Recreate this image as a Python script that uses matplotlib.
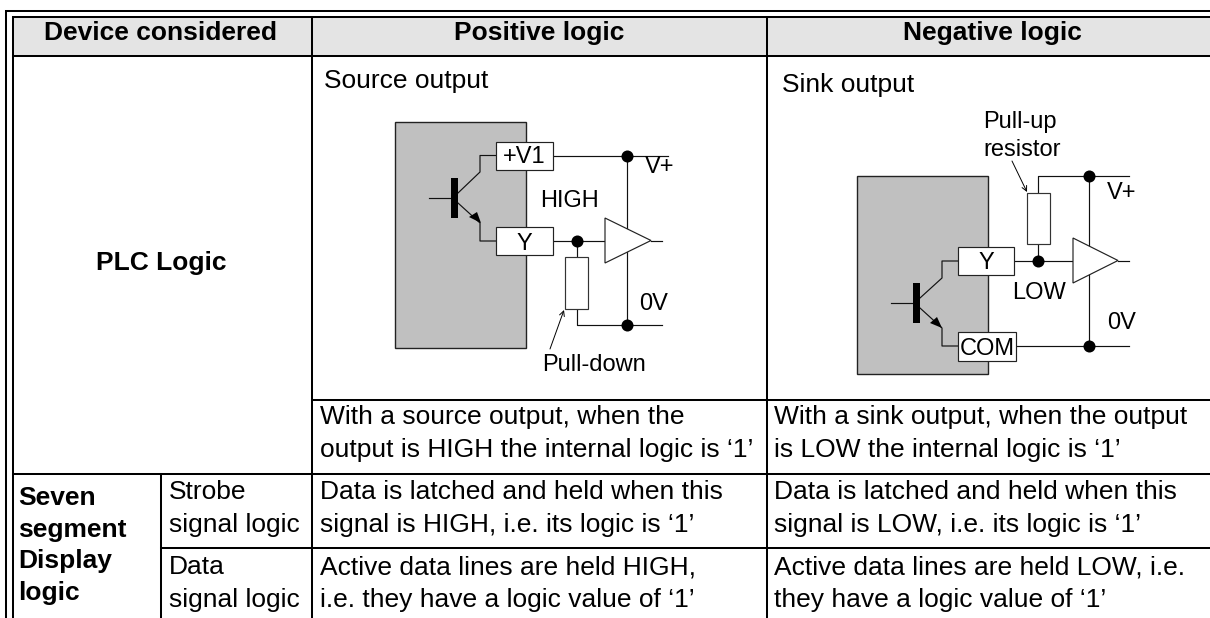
import matplotlib
matplotlib.use("Agg")
import matplotlib.pyplot as plt
from matplotlib.patches import Rectangle, Polygon

plt.rcParams["font.family"] = ["Liberation Sans", "DejaVu Sans"]

# table text, in picture pixels (x, baseline y)
header = ["Device considered", "Positive logic", "Negative logic"]
header_x = [160, 539, 992]

bold_text = [
    ("Seven", 18, 505), ("segment", 18, 537), ("Display", 18, 568), ("logic", 18, 600),
]
plain_text = [
    ("Strobe", 169, 499),
    ("signal logic", 169, 532),
    ("Data", 169, 574),
    ("signal logic", 169, 607),
    ("Source output", 324, 88),
    ("With a source output, when the", 320, 424),
    ("output is HIGH the internal logic is \u20181\u2019", 320, 457),
    ("Data is latched and held when this", 320, 499),
    ("signal is HIGH, i.e. its logic is \u20181\u2019", 320, 532),
    ("Active data lines are held HIGH,", 320, 574),
    ("i.e. they have a logic value of \u20181\u2019", 320, 607),
    ("Sink output", 782, 92),
    ("With a sink output, when the output", 774, 424),
    ("is LOW the internal logic is \u20181\u2019", 774, 457),
    ("Data is latched and held when this", 774, 499),
    ("signal is LOW, i.e. its logic is \u20181\u2019", 774, 532),
    ("Active data lines are held LOW, i.e.", 774, 574),
    ("they have a logic value of \u20181\u2019", 774, 607),
]

# labels in the two circuits
circuit_text = [
    ("HIGH", 540, 207), ("V+", 645, 173), ("0V", 639, 310), ("Pull-down", 542, 371),
    ("Pull-up", 983, 128), ("resistor", 983, 156), ("V+", 1107, 199), ("0V", 1107, 329),
    ("LOW", 1012, 299),
]

# circuit parts: left = source output, right = sink output
gray_boxes = [(395, 122, 131, 226), (857, 176, 131, 198)]
term_boxes = [
    ("+V1", 496, 142, 57, 28, 163), ("Y", 496, 227, 57, 28, 250),
    ("Y", 958, 247, 56, 28, 269), ("COM", 958, 332, 58, 29, 355),
]
resistors = [(565, 257, 23, 52), (1027, 193, 23, 51)]
triangles = [(605, 218, 263, 651), (1073, 238, 283, 1118)]
dots = [(627, 155.5), (577, 241), (627, 325), (1089, 176), (1038, 261), (1089, 346)]
wires = [
    [(553, 155.5), (668, 155.5)], [(627, 155.5), (627, 325)],
    [(553, 241), (605, 241)], [(651, 241), (662, 241)],
    [(577, 241), (577, 257)], [(577, 309), (577, 325), (662, 325)],
    [(429, 198), (451, 198)],
    [(458, 193), (480, 172), (480, 155.5), (496, 155.5)],
    [(458, 203), (480, 223), (480, 241), (496, 241)],
    [(1038, 193), (1038, 176), (1129, 176)], [(1038, 244), (1038, 261)],
    [(1014, 261), (1073, 261)], [(1118, 261), (1129, 261)],
    [(1089, 176), (1089, 346)], [(1016, 346), (1129, 346)],
    [(891, 303), (913, 303)],
    [(920, 298), (942, 278), (942, 261), (958, 261)],
    [(920, 308), (942, 328), (942, 346), (958, 346)],
]
bars = [(451, 178, 7, 40), (913, 283, 7, 40)]
arrow_heads = [[(481, 223), (469, 217), (477, 212)], [(942, 328), (930, 323), (937, 317)]]
pointers = [((550, 349), (564, 310)), ((1012, 161), (1027, 192))]

fig = plt.figure(figsize=(12.1, 6.18), dpi=100)
ax = fig.add_axes([0, 0, 1, 1])
ax.set_xlim(0, 1210)
ax.set_ylim(618, 0)
ax.axis("off")

ink = "#000000"
grid_w = 1.45
size = 19

# header band runs off the right edge
ax.add_patch(Rectangle((13, 17), 1197, 39, fc="#e4e4e4", ec="none", zorder=0))

# double frame, open at the bottom and right
ax.plot([6, 6, 1210], [618, 11, 11], color=ink, lw=grid_w, solid_joinstyle="miter")
ax.plot([13, 13, 1210], [618, 17, 17], color=ink, lw=grid_w, solid_joinstyle="miter")

# grid
ax.plot([13, 1210], [56, 56], color=ink, lw=grid_w)
ax.plot([312, 1210], [400, 400], color=ink, lw=grid_w)
ax.plot([13, 1210], [474, 474], color=ink, lw=grid_w)
ax.plot([161, 1210], [548, 548], color=ink, lw=grid_w)
ax.plot([312, 312], [17, 618], color=ink, lw=grid_w)
ax.plot([766.5, 766.5], [17, 618], color=ink, lw=grid_w)
ax.plot([161, 161], [474, 618], color=ink, lw=grid_w)

for label, x in zip(header, header_x):
    ax.text(x, 40, label, ha="center", va="baseline", fontsize=size, fontweight="bold")
ax.text(161, 270, "PLC Logic", ha="center", va="baseline", fontsize=size, fontweight="bold")

for label, x, y in bold_text:
    ax.text(x, y, label, ha="left", va="baseline", fontsize=size, fontweight="bold")
for label, x, y in plain_text:
    ax.text(x, y, label, ha="left", va="baseline", fontsize=size)

# circuits
for x, y, w, h in gray_boxes:
    ax.add_patch(Rectangle((x, y), w, h, fc="#c0c0c0", ec="#222222", lw=1.0, zorder=1))
for pts in wires:
    ax.plot([p[0] for p in pts], [p[1] for p in pts], color="#111111", lw=0.85, zorder=2)
for x, y, w, h in bars:
    ax.add_patch(Rectangle((x, y), w, h, fc=ink, ec="none", zorder=3))
for pts in arrow_heads:
    ax.add_patch(Polygon(pts, closed=True, fc=ink, ec="none", zorder=3))
for x, y, w, h in resistors:
    ax.add_patch(Rectangle((x, y), w, h, fc="white", ec="#333333", lw=0.85, zorder=3))
for x, y0, y1, tip in triangles:
    ax.add_patch(Polygon([(x, y0), (x, y1), (tip, (y0 + y1) / 2)], closed=True,
                         fc="white", ec="#222222", lw=0.85, zorder=3))
for label, x, y, w, h, base in term_boxes:
    ax.add_patch(Rectangle((x, y), w, h, fc="white", ec="#222222", lw=0.85, zorder=3))
    ax.text(x + w / 2, base, label, ha="center", va="baseline", fontsize=17, zorder=4)
ax.scatter([d[0] for d in dots], [d[1] for d in dots], s=75, color=ink, linewidths=0, zorder=5)
for start, end in pointers:
    ax.annotate("", xy=end, xytext=start, zorder=4,
                arrowprops=dict(arrowstyle="->", lw=0.7, color=ink, shrinkA=0, shrinkB=0, mutation_scale=9))
for label, x, y in circuit_text:
    ax.text(x, y, label, ha="left", va="baseline", fontsize=17, zorder=6)

fig.savefig("out.png", dpi=100)
